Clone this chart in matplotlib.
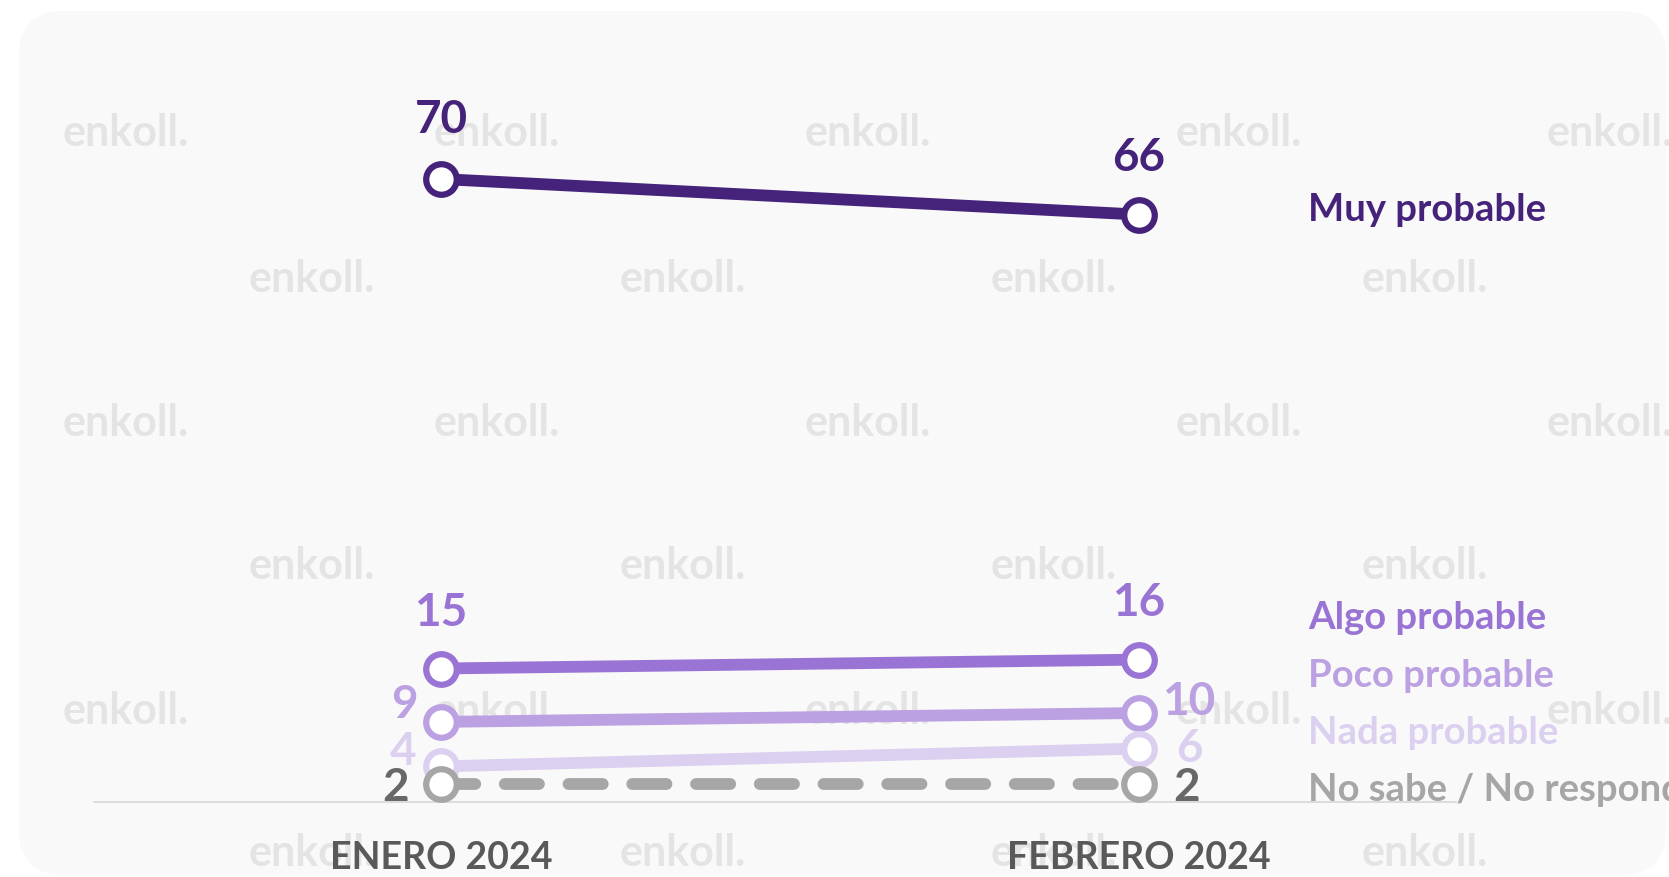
import matplotlib
matplotlib.use("Agg")
import matplotlib.pyplot as plt
from matplotlib.patches import FancyBboxPatch
from matplotlib.transforms import IdentityTransform

# ---------------- data ----------------
periods = ["ENERO 2024", "FEBRERO 2024"]
series_names = ["Muy probable", "Algo probable", "Poco probable",
                "Nada probable", "No sabe / No responde"]
muy_probable = [70, 66]
algo_probable = [15, 16]
poco_probable = [9, 10]
nada_probable = [4, 6]
no_sabe = [2, 2]

# ---------------- style ----------------
W, H, DPI = 1669, 877, 100
FONT = "Lato"
colors = ["#46237A", "#9A74D4", "#BBA0E2", "#DCD0F0", "#A6A6A6"]
label_colors = ["#46237A", "#9A74D4", "#BBA0E2", "#DCD0F0", "#686868"]
legend_colors = ["#46237A", "#9A74D4", "#BBA0E2", "#DCD0F0", "#A6A6A6"]

fig = plt.figure(figsize=(W / DPI, H / DPI), dpi=DPI)
fig.patch.set_facecolor("white")

# rounded light panel
bg = FancyBboxPatch((19, 2), 1647, 864, boxstyle="round,pad=0,rounding_size=45",
                    transform=IdentityTransform(), facecolor="#F9F9F9",
                    edgecolor="none", zorder=-10)
fig.add_artist(bg)

# watermarks (only the fully visible ones)
wm_rows = [(133, "A"), (279, "B"), (423, "A"), (566, "B"), (711, "A"), (853, "B")]
for y, kind in wm_rows:
    start = 13 if kind == "A" else 199
    nk = 5 if kind == "A" else 4
    for k in range(nk):
        x = start + 371 * k + 50
        fig.text(x / W, 1 - y / H, "enkoll.", fontsize=31, fontweight="bold",
                 family=FONT, color="#E4E4E4", ha="left", va="center", zorder=-5)

ax = fig.add_axes([94 / W, 75 / H, 1362 / W, 712 / H])
ax.set_facecolor("none")
ax.set_xlim(-0.497, 1.454)
ax.set_ylim(0, 80)

x = [0, 1]
series = [muy_probable, algo_probable, poco_probable, nada_probable, no_sabe]
for i, (vals, c) in enumerate(zip(series, colors)):
    kw = dict(color=c, lw=8.5, marker="o", ms=22, mfc="white", mec=c, mew=4.5,
              solid_capstyle="round", zorder=3 + i)
    if i == 4:
        kw.update(ls=(0, (2.9, 2.5)), dash_capstyle="round")
    ax.plot(x, vals, **kw)

# value labels: offsets in pixels (dx, dy) for each point
px = 0.72
offsets = [
    [(0, 59, "center"), (0, 57, "center")],
    [(0, 56, "center"), (0, 57, "center")],
    [(-37, 17, "center"), (50, 11, "center")],
    [(-38, 14, "center"), (50, 0, "center")],
    [(-45, -4, "center"), (48, -4, "center")],
]
for i, vals in enumerate(series):
    for j, v in enumerate(vals):
        dx, dy, ha = offsets[i][j]
        ax.annotate(str(v), (x[j], v), xytext=(dx * px, dy * px),
                    textcoords="offset points", ha=ha, va="center",
                    fontsize=33, fontweight="bold", family=FONT,
                    color=label_colors[i], zorder=10)

# series labels on the right
legend_y = [210, 618, 676, 733, 790]
for name, y, c in zip(series_names, legend_y, legend_colors):
    fig.text(1308 / W, 1 - y / H, name, fontsize=27.5, fontweight="bold",
             family=FONT, color=c, ha="left", va="center")

# axes styling
for s in ["top", "right", "left"]:
    ax.spines[s].set_visible(False)
ax.spines["bottom"].set_color("#D9D9D9")
ax.spines["bottom"].set_linewidth(1.3)
ax.set_yticks([])
ax.set_xticks(x)
ax.set_xticklabels(periods, fontsize=27, fontweight="bold", family=FONT,
                   color="#595959")
ax.tick_params(axis="x", length=0, pad=28)

fig.savefig("out.png", dpi=DPI, facecolor="white")
